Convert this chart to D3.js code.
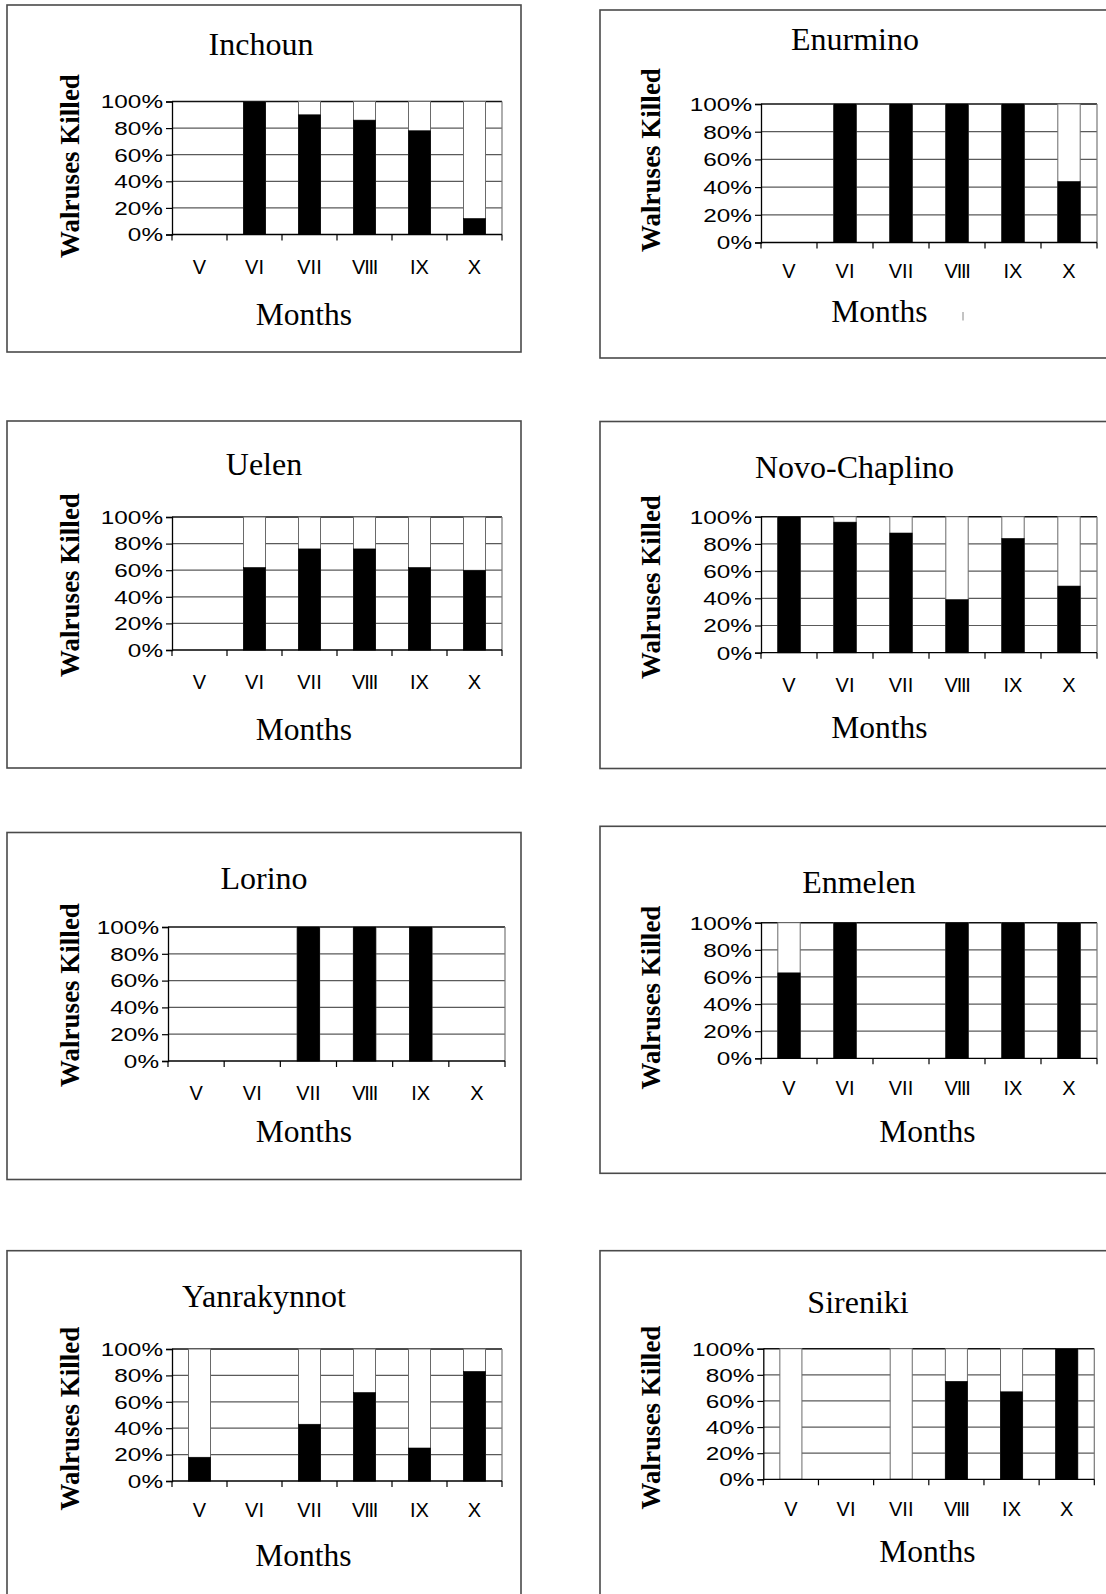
<!DOCTYPE html>
<html>
<head>
<meta charset="utf-8">
<script src="https://cdn.jsdelivr.net/npm/d3@7"></script>
<style>
  html, body { margin: 0; padding: 0; background: #fff; }
  svg { display: block; }
</style>
</head>
<body>
<svg id="chart" width="1106" height="1594"></svg>
<script>
// ---- data ----
const months = ["V", "VI", "VII", "VIII", "IX", "X"];
const yTickValues = [0, 20, 40, 60, 80, 100];
const yTickLabels = ["0%", "20%", "40%", "60%", "80%", "100%"];
const villages = ["Inchoun", "Enurmino", "Uelen", "Novo-Chaplino", "Lorino", "Enmelen", "Yanrakynnot", "Sireniki"];
// percent of walruses killed per month (null = no data)
const inchoun      = [null, 100, 90, 86, 78, 12];
const enurmino     = [null, 100, 100, 100, 100, 44];
const uelen        = [null, 62, 76, 76, 62, 60];
const novoChaplino = [100, 96, 88, 39, 84, 49];
const lorino       = [null, null, 100, 100, 100, null];
const enmelen      = [63, 100, null, 100, 100, 100];
const yanrakynnot  = [18, null, 43, 67, 25, 83];
const sireniki     = [0, null, 0, 75, 67, 100];
const seriesList = [inchoun, enurmino, uelen, novoChaplino, lorino, enmelen, yanrakynnot, sireniki];

// ---- layout (positions only) ----
const layouts = [
  {box:[7,5,514,347],     plot:[172,101.5,330,133],  title:[261,55],     months:[304,325],     ylab:[79,166],    xo:39},
  {box:[600,10,520,348],  plot:[761,104,336,138.5],  title:[855,50],     months:[879.5,322],   ylab:[660,160],   xo:35},
  {box:[7,421,514,347],   plot:[172,517,330,133],    title:[264,475],    months:[304,740],     ylab:[79,585],    xo:39},
  {box:[600,421.5,520,347], plot:[761,516.7,336,136], title:[854.5,478], months:[879.5,738],   ylab:[660,587],   xo:39},
  {box:[7,832.5,514,347], plot:[168,927,337,134],    title:[264,889],    months:[304,1142],    ylab:[79,995],    xo:39},
  {box:[600,826.3,520,347], plot:[761,922.7,336,135.6], title:[859,892.7], months:[927.5,1141.7], ylab:[660,997.5], xo:37},
  {box:[7,1250.7,514,360], plot:[172,1349,330,132],  title:[264,1306.6], months:[303.5,1566],  ylab:[79,1418.7], xo:36},
  {box:[600,1250.7,520,360], plot:[763.3,1348.7,331,130.6], title:[858,1312.7], months:[927.5,1561.7], ylab:[660,1417.5], xo:37}
];

const svg = d3.select("#chart");
svg.append("rect").attr("width", 1106).attr("height", 1594).attr("fill", "#fff");

villages.forEach((name, i) => {
  const L = layouts[i];
  const data = seriesList[i];
  const g = svg.append("g");

  // panel frame
  g.append("rect")
    .attr("x", L.box[0]).attr("y", L.box[1])
    .attr("width", L.box[2]).attr("height", L.box[3])
    .attr("fill", "none").attr("stroke", "#4a4a4a").attr("stroke-width", 1.6);

  const [px, py, pw, ph] = L.plot;
  const x = d3.scaleBand().domain(months).range([px, px + pw]).padding(0);
  const y = d3.scaleLinear().domain([0, 100]).range([py + ph, py]);
  const step = x.step();
  const barW = step * 0.4;

  // gridlines
  g.selectAll(".grid").data(yTickValues.filter(v => v > 0)).enter().append("line")
    .attr("x1", px).attr("x2", px + pw)
    .attr("y1", d => y(d)).attr("y2", d => y(d))
    .attr("stroke", d => d === 100 ? "#111" : "#5a5a5a")
    .attr("stroke-width", d => d === 100 ? 1.4 : 1.2);
  // right plot border
  g.append("line").attr("x1", px + pw).attr("x2", px + pw).attr("y1", py).attr("y2", py + ph)
    .attr("stroke", "#777").attr("stroke-width", 1.2);

  // bars
  const present = months.map((m, k) => ({m, v: data[k]})).filter(d => d.v !== null);
  g.selectAll(".bg").data(present).enter().append("rect")
    .attr("x", d => x(d.m) + (step - barW) / 2).attr("width", barW)
    .attr("y", y(100)).attr("height", y(0) - y(100))
    .attr("fill", "#fff").attr("stroke", "#6a6a6a").attr("stroke-width", 1);
  g.selectAll(".fg").data(present.filter(d => d.v > 0)).enter().append("rect")
    .attr("x", d => x(d.m) + (step - barW) / 2).attr("width", barW)
    .attr("y", d => y(d.v)).attr("height", d => y(0) - y(d.v))
    .attr("fill", "#000").attr("stroke", "#000").attr("stroke-width", 0.6);

  // y axis
  const yAxis = d3.axisLeft(y).tickValues(yTickValues).tickSize(6).tickFormat("");
  const ya = g.append("g").attr("transform", `translate(${px},0)`).call(yAxis);
  ya.select(".domain").attr("stroke", "#000").attr("stroke-width", 1.3);
  ya.selectAll(".tick line").attr("stroke", "#000").attr("stroke-width", 1.2);
  // y tick labels (horizontally stretched sans)
  g.selectAll(".ylbl").data(yTickValues).enter().append("text")
    .attr("transform", (d) => `translate(${px - 9},${y(d)}) scale(1.28,1)`)
    .attr("text-anchor", "end").attr("dy", "0.36em")
    .attr("font-family", "Liberation Sans, Arial, sans-serif").attr("font-size", 19)
    .attr("fill", "#000")
    .text((d, k) => yTickLabels[k]);

  // x axis: ticks at band boundaries
  const xa = g.append("g");
  xa.append("line").attr("x1", px).attr("x2", px + pw).attr("y1", py + ph).attr("y2", py + ph)
    .attr("stroke", "#000").attr("stroke-width", 1.3);
  const bounds = months.map(m => x(m)).concat([px + pw]);
  xa.selectAll(".xt").data(bounds).enter().append("line")
    .attr("x1", d => d).attr("x2", d => d).attr("y1", py + ph).attr("y2", py + ph + 6)
    .attr("stroke", "#000").attr("stroke-width", 1.2);
  xa.selectAll(".xl").data(months).enter().append("text")
    .attr("x", d => x(d) + step / 2).attr("y", py + ph + L.xo)
    .attr("text-anchor", "middle")
    .attr("font-family", "Liberation Sans, Arial, sans-serif").attr("font-size", 20)
    .attr("letter-spacing", d => d === "VIII" ? "-1.3" : "0")
    .text(d => d);

  // titles
  g.append("text").attr("x", L.title[0]).attr("y", L.title[1])
    .attr("text-anchor", "middle")
    .attr("font-family", "Liberation Serif, Times New Roman, serif").attr("font-size", 32)
    .text(name);
  g.append("text").attr("x", L.months[0]).attr("y", L.months[1])
    .attr("text-anchor", "middle")
    .attr("font-family", "Liberation Serif, Times New Roman, serif").attr("font-size", 31.5)
    .text("Months");
  g.append("text")
    .attr("transform", `translate(${L.ylab[0]},${L.ylab[1]}) rotate(-90)`)
    .attr("text-anchor", "middle")
    .attr("font-family", "Liberation Serif, Times New Roman, serif").attr("font-size", 27)
    .attr("font-weight", "bold")
    .text("Walruses Killed");
});

// small stray mark next to "Months" in the Enurmino panel
svg.append("line").attr("x1", 963).attr("x2", 963).attr("y1", 312).attr("y2", 320.5)
  .attr("stroke", "#888").attr("stroke-width", 1);
</script>
</body>
</html>
